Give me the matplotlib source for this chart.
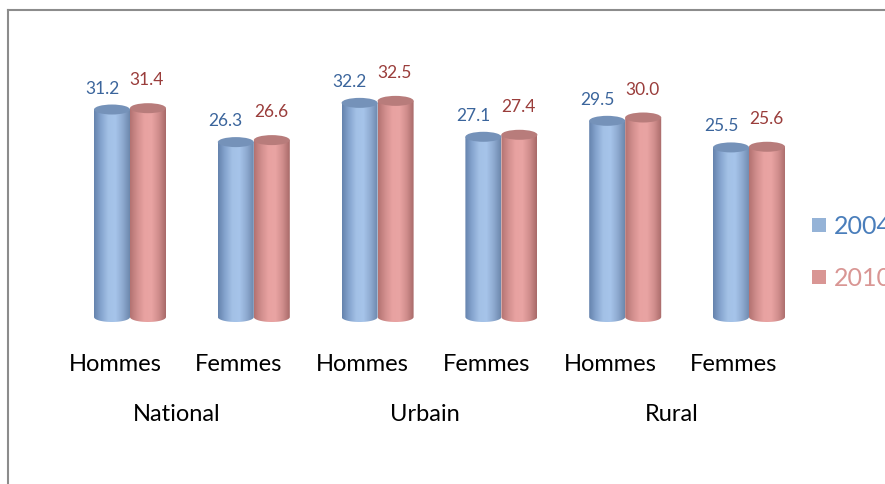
import numpy as np
import matplotlib
matplotlib.use("Agg")
import matplotlib.pyplot as plt
from matplotlib.patches import Polygon, Ellipse, Rectangle
from matplotlib.colors import LinearSegmentedColormap

plt.rcParams['font.family'] = ['Lato', 'DejaVu Sans']

# data
groups = ["National", "Urbain", "Rural"]
sexes = ["Hommes", "Femmes"]
years = ["2004", "2010"]
v2004 = [31.2, 26.3, 32.2, 27.1, 29.5, 25.5]
v2010 = [31.4, 26.6, 32.5, 27.4, 30.0, 25.6]

W, H = 885, 485
fig = plt.figure(figsize=(W / 100, H / 100), dpi=100)

# axes placed so that value 0 sits at the cylinder bottoms, 6.65 px per unit
px_unit = 6.65
y0_px = 318
ymin, ymax = -3, 40
ax = fig.add_axes([68.1 / W, (H - y0_px + ymin * px_unit) / H, 742.8 / W,
                   (ymax - ymin) * px_unit / H])
ax.set_xlim(-0.5, 5.5)
ax.set_ylim(ymin, ymax)
ax.axis('off')

bw = 36 / 123.8           # cylinder width in category units
eh = 10 / px_unit         # full height of the end ellipses in value units

blue_cmap = LinearSegmentedColormap.from_list(
    "b", ["#6583ad", "#86a5cf", "#a3c1e6", "#a6c4ea", "#8eaad0", "#6d88ad"])
red_cmap = LinearSegmentedColormap.from_list(
    "r", ["#b37271", "#d18e8d", "#e8a2a1", "#e9a4a3", "#d08d8c", "#a86a69"])
grad = np.linspace(0, 1, 200).reshape(1, -1)


def cylinder(xc, v, cmap, cap):
    xl, xr = xc - bw / 2, xc + bw / 2
    th = np.linspace(np.pi, 2 * np.pi, 60)
    bottom = np.column_stack([xc + bw / 2 * np.cos(th), eh / 2 * np.sin(th)])
    pts = np.vstack([[xl, v], bottom, [xr, v]])
    body = Polygon(pts, closed=True, facecolor='none', edgecolor='none')
    ax.add_patch(body)
    im = ax.imshow(grad, cmap=cmap, extent=(xl, xr, -eh, v), aspect='auto',
                   interpolation='bilinear', zorder=2)
    im.set_clip_path(body)
    ax.add_patch(Ellipse((xc, v), bw, eh, facecolor=cap, edgecolor='none', zorder=3))


x = np.arange(len(v2004))
for i in x:
    cylinder(i - bw / 2, v2004[i], blue_cmap, "#7592b9")
    cylinder(i + bw / 2, v2010[i], red_cmap, "#b87c7b")
    ax.annotate(f"{v2004[i]:.1f}", (i - bw / 2, v2004[i]), xytext=(-10, 22),
                textcoords='offset pixels', ha='center', va='center',
                fontsize=12.5, color="#3b659c")
    ax.annotate(f"{v2010[i]:.1f}", (i + bw / 2, v2010[i]), xytext=(-1, 29),
                textcoords='offset pixels', ha='center', va='center',
                fontsize=12.5, color="#9a3d3b")

# category and group labels
shift = -15 / 123.8
for i in x:
    ax.text(i + shift, (y0_px - 365) / px_unit, sexes[i % 2], ha='center',
            va='center', fontsize=17, color='black', clip_on=False)
for g, name in enumerate(groups):
    ax.text(2 * g + 0.5 + shift, (y0_px - 415) / px_unit, name, ha='center',
            va='center', fontsize=17, color='black', clip_on=False)

# legend, cut by the right edge as in the original
leg_cols = ["#95b3d7", "#d99694"]
leg_txt = ["#4a7ebb", "#d99694"]
for k, (yr, yc) in enumerate(zip(years, [226, 278])):
    fig.add_artist(Rectangle((812 / W, (H - yc - 7) / H), 14 / W, 14 / H,
                             transform=fig.transFigure, facecolor=leg_cols[k],
                             edgecolor='none'))
    fig.text(834 / W, (H - yc) / H, yr, ha='left', va='center',
             fontsize=18, color=leg_txt[k])

# chart frame (left and top sides visible)
fig.add_artist(plt.Line2D([8 / W, 8 / W], [0, (H - 11) / H], color="#8c8c8c",
                          lw=1.5, transform=fig.transFigure))
fig.add_artist(plt.Line2D([8 / W, 1], [(H - 11) / H, (H - 11) / H],
                          color="#8c8c8c", lw=1.5, transform=fig.transFigure))

fig.savefig("out.png", dpi=100)
